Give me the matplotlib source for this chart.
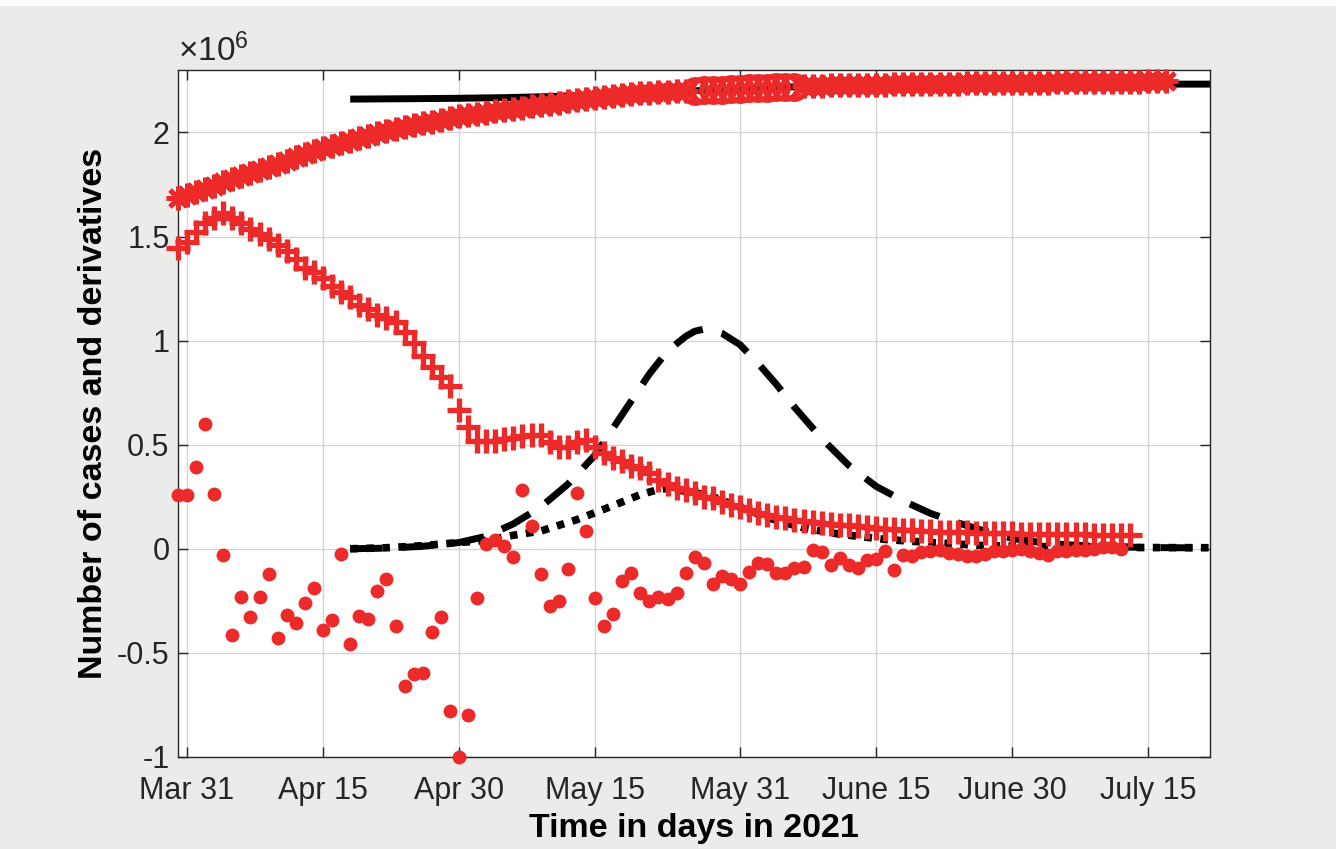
import numpy as np
import matplotlib.pyplot as plt
from matplotlib.ticker import FuncFormatter
from matplotlib.patches import Rectangle

plt.rcParams['font.family'] = ['Liberation Sans', 'DejaVu Sans']
plt.rcParams['mathtext.default'] = 'regular'

RED = '#ec2a2a'
BASE = np.datetime64('2021-03-31')

# daily series start on Mar 30 (day -1 relative to Mar 31), values in millions
cases = [
    1.685, 1.700, 1.715, 1.730, 1.745, 1.760, 1.775, 1.790, 1.805, 1.820,
    1.835, 1.850, 1.865, 1.880, 1.895, 1.910, 1.925, 1.937, 1.949, 1.961,
    1.973, 1.985, 1.995, 2.005, 2.015, 2.024, 2.034, 2.043, 2.051, 2.060,
    2.068, 2.077, 2.083, 2.089, 2.095, 2.101, 2.107, 2.113, 2.119, 2.125,
    2.131, 2.137, 2.143, 2.149, 2.155, 2.161, 2.167, 2.171, 2.175, 2.179,
    2.183, 2.187, 2.190, 2.192, 2.195, 2.197, 2.199, 2.201, 2.203, 2.204,
    2.206, 2.208, 2.210, 2.212, 2.213, 2.215, 2.217, 2.218, 2.220, 2.222,
    2.223, 2.225, 2.226, 2.228, 2.228, 2.229, 2.229, 2.230, 2.230, 2.231,
    2.231, 2.232, 2.232, 2.233, 2.233, 2.234, 2.234, 2.235, 2.235, 2.236,
    2.236, 2.237, 2.237, 2.238, 2.238, 2.239, 2.239, 2.240, 2.240, 2.241,
    2.241, 2.242, 2.242, 2.243, 2.243, 2.244, 2.244, 2.245, 2.245, 2.246,
]

first_deriv = [
    1.447, 1.476, 1.520, 1.567, 1.590, 1.615, 1.590, 1.567, 1.534, 1.510,
    1.486, 1.460, 1.428, 1.390, 1.350, 1.330, 1.300, 1.260, 1.235, 1.210,
    1.170, 1.150, 1.125, 1.110, 1.087, 1.043, 0.990, 0.925, 0.875, 0.827,
    0.780, 0.668, 0.587, 0.520, 0.520, 0.520, 0.525, 0.530, 0.540, 0.548,
    0.548, 0.515, 0.490, 0.490, 0.515, 0.524, 0.490, 0.460, 0.437, 0.420,
    0.400, 0.390, 0.365, 0.330, 0.310, 0.293, 0.284, 0.270, 0.250, 0.245,
    0.226, 0.210, 0.200, 0.187, 0.173, 0.163, 0.154, 0.149, 0.140, 0.135,
    0.130, 0.125, 0.120, 0.116, 0.112, 0.108, 0.104, 0.100, 0.097, 0.094,
    0.091, 0.089, 0.087, 0.085, 0.083, 0.082, 0.080, 0.079, 0.078, 0.077,
    0.076, 0.075, 0.074, 0.073, 0.072, 0.071, 0.071, 0.070, 0.070, 0.069,
    0.069, 0.068, 0.068, 0.067, 0.067, 0.066,
]

second_deriv = [
    0.260, 0.260, 0.394, 0.600, 0.264, -0.030, -0.413, -0.230, -0.330, -0.230,
    -0.120, -0.430, -0.317, -0.355, -0.260, -0.190, -0.390, -0.340, -0.025, -0.457,
    -0.325, -0.337, -0.205, -0.146, -0.370, -0.660, -0.600, -0.595, -0.400, -0.330,
    -0.780, -1.000, -0.800, -0.235, 0.024, 0.040, 0.014, -0.038, 0.284, 0.110,
    -0.120, -0.274, -0.250, -0.096, 0.270, 0.087, -0.236, -0.370, -0.313, -0.154,
    -0.115, -0.210, -0.250, -0.230, -0.240, -0.210, -0.115, -0.040, -0.067, -0.170,
    -0.130, -0.146, -0.170, -0.110, -0.067, -0.072, -0.115, -0.115, -0.090, -0.087,
    -0.005, -0.015, -0.080, -0.045, -0.080, -0.090, -0.053, -0.050, -0.010, -0.100,
    -0.030, -0.034, -0.014, -0.010, -0.005, -0.020, -0.025, -0.034, -0.034, -0.025,
    -0.010, -0.010, -0.005, 0.000, -0.010, -0.020, -0.030, -0.010, -0.010, -0.005,
    -0.005, 0.000, 0.010, 0.010, 0.000,
]

# days fitted by the model (drawn as circles instead of asterisks)
fit_window = ('2021-05-26', '2021-06-06')

# model curves, days counted from Mar 31, values in millions
model_days = [18, 25, 30, 35, 40, 45, 50, 55, 60, 65, 70, 75, 80, 90, 100, 113]
model_cases = [2.160, 2.162, 2.164, 2.167, 2.172, 2.180, 2.190, 2.198,
               2.207, 2.216, 2.223, 2.228, 2.231, 2.232, 2.232, 2.232]

rate_days = [18, 22, 26, 30, 33, 36, 39, 42, 45, 47, 49, 51, 53, 55, 56, 57,
             58, 59, 61, 63, 65, 67, 70, 73, 76, 79, 82, 85, 88, 91, 95, 100,
             106, 113]
model_rate = [0.0, 0.003, 0.012, 0.03, 0.06, 0.12, 0.2, 0.31, 0.45, 0.58,
              0.71, 0.84, 0.95, 1.02, 1.045, 1.055, 1.05, 1.035, 0.98, 0.89,
              0.79, 0.68, 0.53, 0.4, 0.3, 0.23, 0.17, 0.125, 0.085, 0.05,
              0.025, 0.012, 0.006, 0.004]

accel_days = [18, 22, 26, 30, 33, 36, 39, 43, 46, 50, 52, 53, 56, 58, 61,
              64, 68, 72, 77, 82, 88, 95, 105, 113]
model_accel = [0.0, 0.005, 0.015, 0.03, 0.04, 0.065, 0.085, 0.14, 0.19, 0.26,
               0.285, 0.29, 0.27, 0.25, 0.2, 0.15, 0.1, 0.07, 0.045, 0.03,
               0.015, 0.01, 0.006, 0.005]

tick_dates = ['2021-03-31', '2021-04-15', '2021-04-30', '2021-05-15',
              '2021-05-31', '2021-06-15', '2021-06-30', '2021-07-15']
tick_labels = ['Mar 31', 'Apr 15', 'Apr 30', 'May 15',
               'May 31', 'June 15', 'June 30', 'July 15']


def daily_dates(values):
    return BASE + np.arange(-1, len(values) - 1)


def model_dates(days):
    return BASE + np.array(days)


M = 1e6
fig = plt.figure(figsize=(13.36, 8.49), dpi=100, facecolor='white')
fig.patches.append(Rectangle((0, 0), 1, 1 - 6 / 849, transform=fig.transFigure,
                             facecolor='#ebebea', edgecolor='none', zorder=-10))
ax = fig.add_axes([0.1332, 0.1084, 0.7725, 0.8092])

# model curves underneath the data
ax.plot(model_dates(model_days), np.array(model_cases) * M, color='black',
        lw=5, solid_capstyle='butt', zorder=2)
ax.plot(model_dates(rate_days), np.array(model_rate) * M, color='black',
        lw=5, dashes=(4.6, 2.8), dash_capstyle='butt', zorder=2)
ax.plot(model_dates(accel_days), np.array(model_accel) * M, color='black',
        lw=5.5, dashes=(1.0, 1.1), dash_capstyle='butt', zorder=2)

# data
d_cases = daily_dates(cases)
cases_arr = np.array(cases) * M
in_fit = (d_cases >= np.datetime64(fit_window[0])) & (d_cases <= np.datetime64(fit_window[1]))
ax.plot(d_cases[~in_fit], cases_arr[~in_fit], ls='none', marker=(8, 2, 0),
        ms=17, mew=3.5, color=RED, clip_on=False, zorder=3)
ax.plot(d_cases[in_fit], cases_arr[in_fit], ls='none', marker='o', ms=17,
        mew=3.8, mfc='none', mec=RED, clip_on=False, zorder=3)
ax.plot(daily_dates(first_deriv), np.array(first_deriv) * M, ls='none',
        marker='+', ms=17, mew=3.8, color=RED, clip_on=False, zorder=3)
ax.plot(daily_dates(second_deriv), np.array(second_deriv) * M, ls='none',
        marker='o', ms=10, mew=0, color=RED, clip_on=False, zorder=4)

ax.set_xlim(BASE - np.timedelta64(1, 'D'), BASE + np.timedelta64(2708, 'h'))
ax.set_ylim(-1.0 * M, 2.3 * M)
ax.set_xticks([np.datetime64(d) for d in tick_dates])
ax.set_xticklabels(tick_labels)
ax.set_yticks(np.arange(-1.0, 2.01, 0.5) * M)
ax.yaxis.set_major_formatter(FuncFormatter(lambda v, p: f'{v / M:g}'))
ax.text(0.0, 1.002, r'$\times10^{6}$', transform=ax.transAxes, fontsize=24,
        color='#262626', ha='left', va='bottom')

ax.grid(True, color='#d6d6d6', lw=1)
ax.set_axisbelow(True)
ax.tick_params(direction='in', length=7, width=1, top=True, right=True,
               labelsize=22, colors='#262626')
ax.tick_params(axis='x', pad=14)
ax.tick_params(axis='y', pad=6)
for s in ax.spines.values():
    s.set_color('#262626')
    s.set_linewidth(1)

ax.set_xlabel('Time in days in 2021', fontsize=24.5, fontweight='bold', labelpad=5)
ax.set_ylabel('Number of cases and derivatives', fontsize=24.5,
              fontweight='bold', labelpad=6)

fig.savefig('out.png', dpi=100, facecolor=fig.get_facecolor())
